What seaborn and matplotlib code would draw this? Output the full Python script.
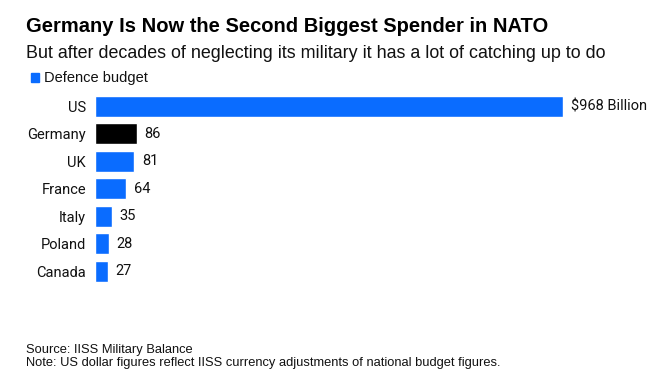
import matplotlib
matplotlib.use('Agg')
import matplotlib.pyplot as plt
import seaborn as sns
import pandas as pd

# datos del grafico
paises = ['US', 'Germany', 'UK', 'France', 'Italy', 'Poland', 'Canada']
presupuesto = [968, 86, 81, 64, 35, 28, 27]
etiquetas = ['$968 Billion', '86', '81', '64', '35', '28', '27']

AZUL = '#0a6cff'
NEGRO = '#000000'
TEXTO = '#111111'

sns.set_theme(style='white')
plt.rcParams['font.family'] = ['Liberation Sans', 'DejaVu Sans']
ETIQ = ['Roboto', 'Liberation Sans', 'DejaVu Sans']

df = pd.DataFrame({'pais': paises, 'valor': presupuesto})
colores = [NEGRO if p == 'Germany' else AZUL for p in paises]

W, H = 669, 387
fig = plt.figure(figsize=(W / 100, H / 100), dpi=100)
ax = fig.add_axes([95 / W, 1 - 285 / H, (563 - 95) / W, 192.5 / H])

sns.barplot(data=df, x='valor', y='pais', hue='pais', palette=colores,
            legend=False, width=0.78, ax=ax, saturation=1)

ax.set_xlim(0, 968)
ax.set_ylim(6.5, -0.5)
ax.set_xlabel('')
ax.set_ylabel('')
ax.set_xticks([])
sns.despine(ax=ax, left=True, bottom=True)
ax.tick_params(axis='y', length=0, pad=6.5, labelcolor=TEXTO)
for lbl in ax.get_yticklabels():
    lbl.set_fontfamily(ETIQ)
    lbl.set_fontsize(10.5)

for i, (v, t) in enumerate(zip(presupuesto, etiquetas)):
    ax.annotate(t, (v, i), xytext=(5.5, 0), textcoords='offset points',
                va='center', ha='left', fontsize=10.5, family=ETIQ,
                color=TEXTO, annotation_clip=False)

# titulos
fig.text(26 / W, 1 - 26.5 / H, 'Germany Is Now the Second Biggest Spender in NATO',
         fontsize=14.5, fontweight='bold', va='center', ha='left', color='#000000')
fig.text(26 / W, 1 - 53 / H,
         'But after decades of neglecting its military it has a lot of catching up to do',
         fontsize=12.9, va='center', ha='left', color=TEXTO)

# leyenda
fig.patches.append(plt.Rectangle((31 / W, 1 - 82 / H), 8 / W, 9 / H,
                                 transform=fig.transFigure, color=AZUL))
fig.text(44 / W, 1 - 78 / H, 'Defence budget', fontsize=10.5,
         va='center', ha='left', color=TEXTO)

# fuente
fig.text(26 / W, 1 - 349.5 / H, 'Source: IISS Military Balance',
         fontsize=9.3, va='center', ha='left', color=TEXTO)
fig.text(26 / W, 1 - 363 / H,
         'Note: US dollar figures reflect IISS currency adjustments of national budget figures.',
         fontsize=9.3, va='center', ha='left', color=TEXTO)

fig.savefig('out.png', dpi=100, facecolor='white')
